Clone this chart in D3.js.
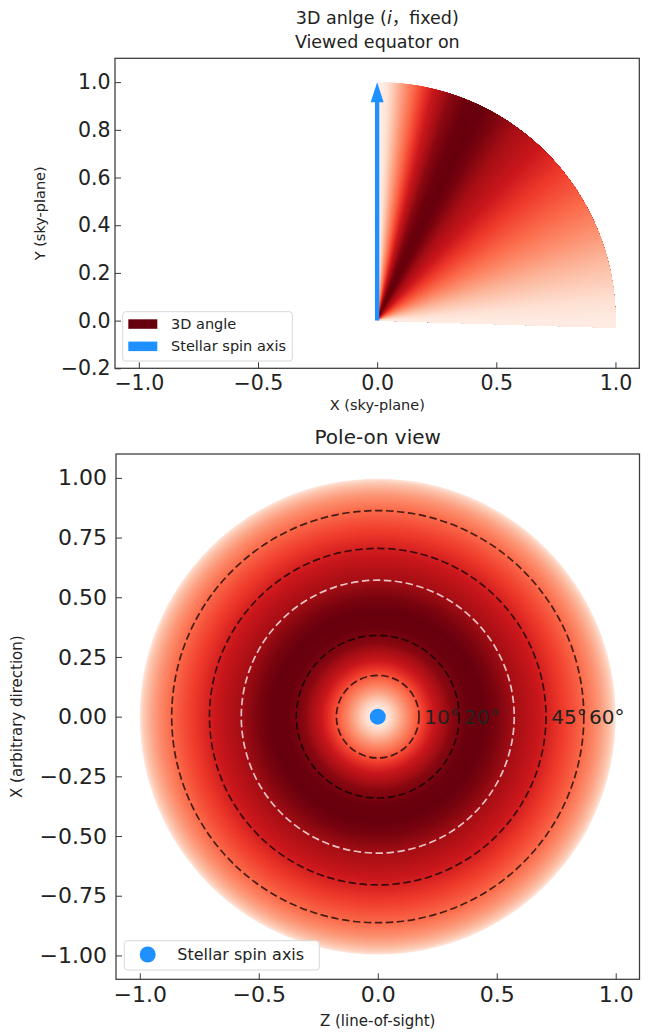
<!DOCTYPE html>
<html><head><meta charset="utf-8">
<script src="https://cdn.jsdelivr.net/npm/d3@7"></script>
<style>body{margin:0;background:#fff} text{font-family:"DejaVu Sans","Noto Sans CJK SC",sans-serif;fill:#222}</style>
</head><body><svg id="c" width="655" height="1034"></svg>
<script>
// ---------- data ----------
const xTicks = [-1.0, -0.5, 0.0, 0.5, 1.0];
const topYTicks = [-0.2, 0.0, 0.2, 0.4, 0.6, 0.8, 1.0];
const poleYTicks = [-1.0, -0.75, -0.5, -0.25, 0.0, 0.25, 0.5, 0.75, 1.0];
// 3D angle (deg) from spin axis and its colour intensity (0..1 on Reds)
const profileAngles    = [0, 2, 4, 6, 8, 10, 12, 14, 16, 18, 22, 26, 30, 35, 40, 45, 50, 55, 60, 65, 70, 75, 80, 85, 90];
const profileIntensity = [0.02, 0.08, 0.2, 0.33, 0.45, 0.56, 0.67, 0.77, 0.86, 0.93, 0.99, 1.0, 0.96, 0.88, 0.8, 0.72, 0.64, 0.57, 0.5, 0.42, 0.34, 0.26, 0.19, 0.12, 0.06];
const darkContourAngles = [10, 20, 45, 60];
const lightContourAngles = [35];
const labelAngles = [10, 20, 45, 60];
const spinAxisLength = 1.0;
const wedgeMaxAngle = 91.7;
const topLegend = ["3D angle", "Stellar spin axis"];
const poleLegend = ["Stellar spin axis"];

// ---------- helpers ----------
const svg = d3.select("#c");
const reds = d3.scaleLinear().domain(d3.range(9).map(i => i / 8)).range(d3.schemeReds[9]).clamp(true);
const intensity = d3.scaleLinear().domain(profileAngles).range(profileIntensity).clamp(true);
const colorAt = deg => reds(intensity(deg));
const rad = d => d * Math.PI / 180;
const BLUE = "#1e90ff";
const SPINE = "#3a3a3a";

function axes(g, x, y, yTicks, yFmt, tickFont, yPad) {
  const ax = g.append("g").attr("transform", `translate(0,${y.range()[0]})`)
    .call(d3.axisBottom(x).tickValues(xTicks).tickFormat(d3.format(".1f")).tickSizeInner(-6).tickSizeOuter(0).tickPadding(7.5));
  const ay = g.append("g").attr("transform", `translate(${x.range()[0]},0)`)
    .call(d3.axisLeft(y).tickValues(yTicks).tickFormat(d3.format(yFmt)).tickSizeInner(-6).tickSizeOuter(0).tickPadding(yPad));
  [ax, ay].forEach(a => {
    a.select(".domain").remove();
    a.selectAll("line").attr("stroke", SPINE).attr("stroke-width", 1);
    a.selectAll("text").style("font-size", tickFont + "px").attr("fill", "#222");
  });
  g.append("rect").attr("x", x.range()[0]).attr("y", y.range()[1])
    .attr("width", x.range()[1] - x.range()[0]).attr("height", y.range()[0] - y.range()[1])
    .attr("fill", "none").attr("stroke", SPINE).attr("stroke-width", 1.25);
}

// ---------- top panel ----------
const xT = d3.scaleLinear().domain([-1.1, 1.1]).range([115, 639.3]);
const yT = d3.scaleLinear().domain([-0.2, 1.1]).range([368.3, 58.3]);
const gT = svg.append("g");
const cx0 = xT(0), cy0 = yT(0), R = xT(1) - xT(0);
const wedge = d3.arc().innerRadius(0).outerRadius(R);
const nW = 300;
const wedgeSteps = d3.range(nW).map(i => wedgeMaxAngle * i / nW);
// painter's order: each sector runs to the wedge end and is overdrawn by the next one
gT.append("g").attr("transform", `translate(${cx0},${cy0})`)
  .selectAll("path").data(wedgeSteps).join("path")
  .attr("d", a => wedge({startAngle: rad(a), endAngle: rad(wedgeMaxAngle)}))
  .attr("fill", a => colorAt(a + wedgeMaxAngle / nW / 2));
// spin axis arrow
const headLen = 20, headW = 13, shaftW = 4.3;
const ax0 = xT(0), ay0 = yT(0), ay1 = yT(spinAxisLength);
gT.append("path")
  .attr("d", `M${ax0 - shaftW/2},${ay0} L${ax0 - shaftW/2},${ay1 + headLen} L${ax0 - headW/2},${ay1 + headLen} L${ax0},${ay1} L${ax0 + headW/2},${ay1 + headLen} L${ax0 + shaftW/2},${ay1 + headLen} L${ax0 + shaftW/2},${ay0} Z`)
  .attr("fill", BLUE);
axes(gT, xT, yT, topYTicks, ".1f", 20.5, 4.5);
// titles & labels
const t1 = gT.append("text").attr("x", 377.3).attr("y", 24).attr("text-anchor", "middle").style("font-size", "17.5px");
t1.append("tspan").text("3D anlge (");
t1.append("tspan").style("font-style", "italic").text("i");
t1.append("tspan").text("，fixed)");
gT.append("text").attr("x", 377.3).attr("y", 48).attr("text-anchor", "middle").style("font-size", "17.5px").text("Viewed equator on");
gT.append("text").attr("x", 377.3).attr("y", 410).attr("text-anchor", "middle").style("font-size", "14.5px").text("X (sky-plane)");
gT.append("text").attr("transform", `translate(45,213.3) rotate(-90)`).attr("text-anchor", "middle").style("font-size", "14.5px").text("Y (sky-plane)");
// legend
const lgT = gT.append("g");
lgT.append("rect").attr("x", 122.7).attr("y", 311.7).attr("width", 169.6).attr("height", 49.3).attr("rx", 3)
  .attr("fill", "#fff").attr("fill-opacity", 0.85).attr("stroke", "#d8d8d8");
lgT.selectAll("rect.p").data(topLegend).join("rect").attr("class", "p")
  .attr("x", 128.3).attr("y", (d, i) => 319.3 + i * 22.3).attr("width", 29).attr("height", 9.5)
  .attr("fill", (d, i) => i === 0 ? reds(1) : BLUE);
lgT.selectAll("text").data(topLegend).join("text")
  .attr("x", 171).attr("y", (d, i) => 323.5 + i * 22.5).attr("dy", "0.36em").style("font-size", "14.5px").text(d => d);

// ---------- bottom panel ----------
const xB = d3.scaleLinear().domain([-1.1, 1.1]).range([116, 639.5]);
const yB = d3.scaleLinear().domain([-1.1, 1.1]).range([979.3, 454]);
const gB = svg.append("g");
const bx = xB(0), by = yB(0), RB = xB(1) - xB(0);
const nR = 300;
const radii = d3.range(nR, 0, -1).map(i => i / nR);
gB.append("g").selectAll("circle").data(radii).join("circle")
  .attr("cx", bx).attr("cy", by).attr("r", r => r * RB)
  .attr("fill", r => colorAt(Math.asin(Math.min(1, r - 0.5 / nR)) * 180 / Math.PI));
gB.append("g").selectAll("circle").data(darkContourAngles).join("circle")
  .attr("cx", bx).attr("cy", by).attr("r", a => Math.sin(rad(a)) * RB)
  .attr("fill", "none").attr("stroke", "#000").attr("stroke-opacity", 0.72).attr("stroke-width", 1.7).attr("stroke-dasharray", "7.5,3.5");
gB.append("g").selectAll("circle").data(lightContourAngles).join("circle")
  .attr("cx", bx).attr("cy", by).attr("r", a => Math.sin(rad(a)) * RB)
  .attr("fill", "none").attr("stroke", "#fff").attr("stroke-opacity", 0.75).attr("stroke-width", 1.7).attr("stroke-dasharray", "7.5,3.5");
gB.append("g").selectAll("text").data(labelAngles).join("text")
  .attr("x", a => xB(Math.sin(rad(a)) + 0.022)).attr("y", yB(0)).attr("dy", "0.36em")
  .style("font-size", "20px").attr("fill", "#111").text(a => a + "°");
gB.append("circle").attr("cx", bx).attr("cy", by).attr("r", 8).attr("fill", BLUE);
axes(gB, xB, yB, poleYTicks, ".2f", 22, 9);
gB.append("text").attr("x", 377.7).attr("y", 444).attr("text-anchor", "middle").style("font-size", "20px").text("Pole-on view");
gB.append("text").attr("x", 377.7).attr("y", 1026).attr("text-anchor", "middle").style("font-size", "15px").text("Z (line-of-sight)");
gB.append("text").attr("transform", `translate(22,716.7) rotate(-90)`).attr("text-anchor", "middle").style("font-size", "15px").text("X (arbitrary direction)");
const lgB = gB.append("g");
lgB.append("rect").attr("x", 124.3).attr("y", 940.7).attr("width", 195).attr("height", 29.3).attr("rx", 3)
  .attr("fill", "#fff").attr("fill-opacity", 0.85).attr("stroke", "#d8d8d8");
lgB.selectAll("circle").data(poleLegend).join("circle").attr("cx", 147.7).attr("cy", 954.5).attr("r", 8).attr("fill", BLUE);
lgB.selectAll("text").data(poleLegend).join("text").attr("x", 177.3).attr("y", 954.5).attr("dy", "0.36em").style("font-size", "16px").text(d => d);
</script></body></html>
